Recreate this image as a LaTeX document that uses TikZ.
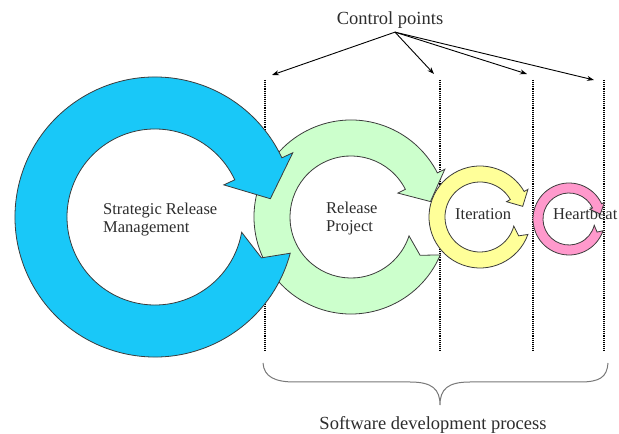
\documentclass[tikz,border=0pt]{standalone}
\usepackage{fontspec}
\setmainfont{Liberation Serif}
\usetikzlibrary{calc,arrows.meta}
\definecolor{ringblue}{RGB}{25,200,248}
\definecolor{ringgreen}{RGB}{204,255,204}
\definecolor{ringyellow}{RGB}{255,255,153}
\definecolor{ringpink}{RGB}{255,153,204}
\definecolor{ringline}{RGB}{60,60,60}
\definecolor{txtgray}{RGB}{45,45,45}
\definecolor{bracegray}{RGB}{120,120,120}
\tikzset{
  ringshape/.style={draw=ringline, line width=0.8pt, line join=miter},
  ctrlline/.style={draw=black, line width=1.8pt, dash pattern=on 1pt off 0.9pt},
  cparrow/.style={draw=black, line width=0.9pt, -{Stealth[length=7pt,width=5pt]}},
  ringlbl/.style={font=\fontsize{16.5}{18}\selectfont, text=txtgray, inner sep=0pt, align=left},
  biglbl/.style={font=\fontsize{18.5}{21}\selectfont, text=txtgray, inner sep=0pt},
  bracestyle/.style={draw=bracegray, line width=1pt}
}
% #1 fill, #2 centre, #3 inner radius, #4 outer radius, #5 head rotation, #6 tail rotation
\newcommand\circarrow[6]{%
  \pgfmathsetmacro\rin{#3}%
  \pgfmathsetmacro\rout{#4}%
  \pgfmathsetmacro\rmid{(#3+#4)/2}%
  \pgfmathsetmacro\bext{0.086*#4}%
  \pgfmathsetmacro\rinb{\rin-\bext}%
  \pgfmathsetmacro\routb{\rout+\bext}%
  \pgfmathsetmacro\trad{\rmid+0.02*#4}%
  \pgfmathsetmacro\hbase{25+#5-360}%
  \pgfmathsetmacro\htip{9+#5-360}%
  \pgfmathsetmacro\tin{-10+#6}%
  \pgfmathsetmacro\tout{-15+#6}%
  \pgfmathsetmacro\tnot{-21+#6}%
  \draw[ringshape, fill=#1] ($(#2)+(\tout:\rout)$)
    arc[start angle=\tout, end angle=\hbase, radius=\rout]
    -- ($(#2)+(\hbase:\routb)$) -- ($(#2)+(\htip:\trad)$)
    -- ($(#2)+(\hbase:\rinb)$) -- ($(#2)+(\hbase:\rin)$)
    arc[start angle=\hbase, end angle=\tin, radius=\rin]
    -- ($(#2)+(\tnot:\rmid)$) -- cycle;
}
\begin{document}
\begin{tikzpicture}[x=1pt,y=1pt]
\useasboundingbox (0,0) rectangle (619,434);
% centres
\coordinate (cb) at (155,217);
\coordinate (cg) at (351,217);
\coordinate (cy) at (480,217);
\coordinate (cpk) at (569,215);
% dotted control-point lines
\coordinate (top1) at (265,354); \coordinate (bot1) at (265,84);
\coordinate (top2) at (440,354); \coordinate (bot2) at (440,84);
\coordinate (top3) at (533,354); \coordinate (bot3) at (533,84);
\coordinate (top4) at (604,354); \coordinate (bot4) at (604,84);
\draw[ctrlline] (top1) -- (bot1);
\draw[ctrlline] (top2) -- (bot2);
\draw[ctrlline] (top3) -- (bot3);
\draw[ctrlline] (top4) -- (bot4);
% heartbeat label (under its ring)
\node[ringlbl, anchor=base west] (hb) at (553,214) {Heartbeat};
% rings, smallest at the back
\circarrow{ringpink}{cpk}{26}{36}{0}{-4}
\circarrow{ringyellow}{cy}{35}{51}{5}{-5}
\circarrow{ringgreen}{cg}{61}{97}{2}{-8}
\circarrow{ringblue}{cb}{88}{140}{0}{0}
% ring labels (base = last line)
\node[ringlbl, anchor=base west] (srm) at (103,201) {Strategic Release\\Management};
\node[ringlbl, anchor=base west] (rp) at (326,202) {Release\\Project};
\node[ringlbl, anchor=base west] (it) at (455,214) {Iteration};
% control points
\node[biglbl, anchor=base] (ctrl) at (390,409) {Control points};
\coordinate (src) at ([xshift=5pt,yshift=-3pt]ctrl.south);
\coordinate (cp1) at (272,359);
\coordinate (cp2) at (434,360);
\coordinate (cp3) at (527,360);
\coordinate (cp4) at (594,354);
\draw[cparrow] (src) -- (cp1);
\draw[cparrow] (src) -- (cp2);
\draw[cparrow] (src) -- (cp3);
\draw[cparrow] (src) -- (cp4);
% brace
\draw[bracestyle] (263,71) .. controls (264,57) and (275,52) .. (295,52)
  -- (410,52) .. controls (432,52) and (440,45) .. (440,29)
  .. controls (440,45) and (448,52) .. (470,52)
  -- (580,52) .. controls (600,52) and (607,57) .. (608,71);
\node[biglbl, anchor=base] (sdp) at (433,4) {Software development process};
\end{tikzpicture}
\end{document}
